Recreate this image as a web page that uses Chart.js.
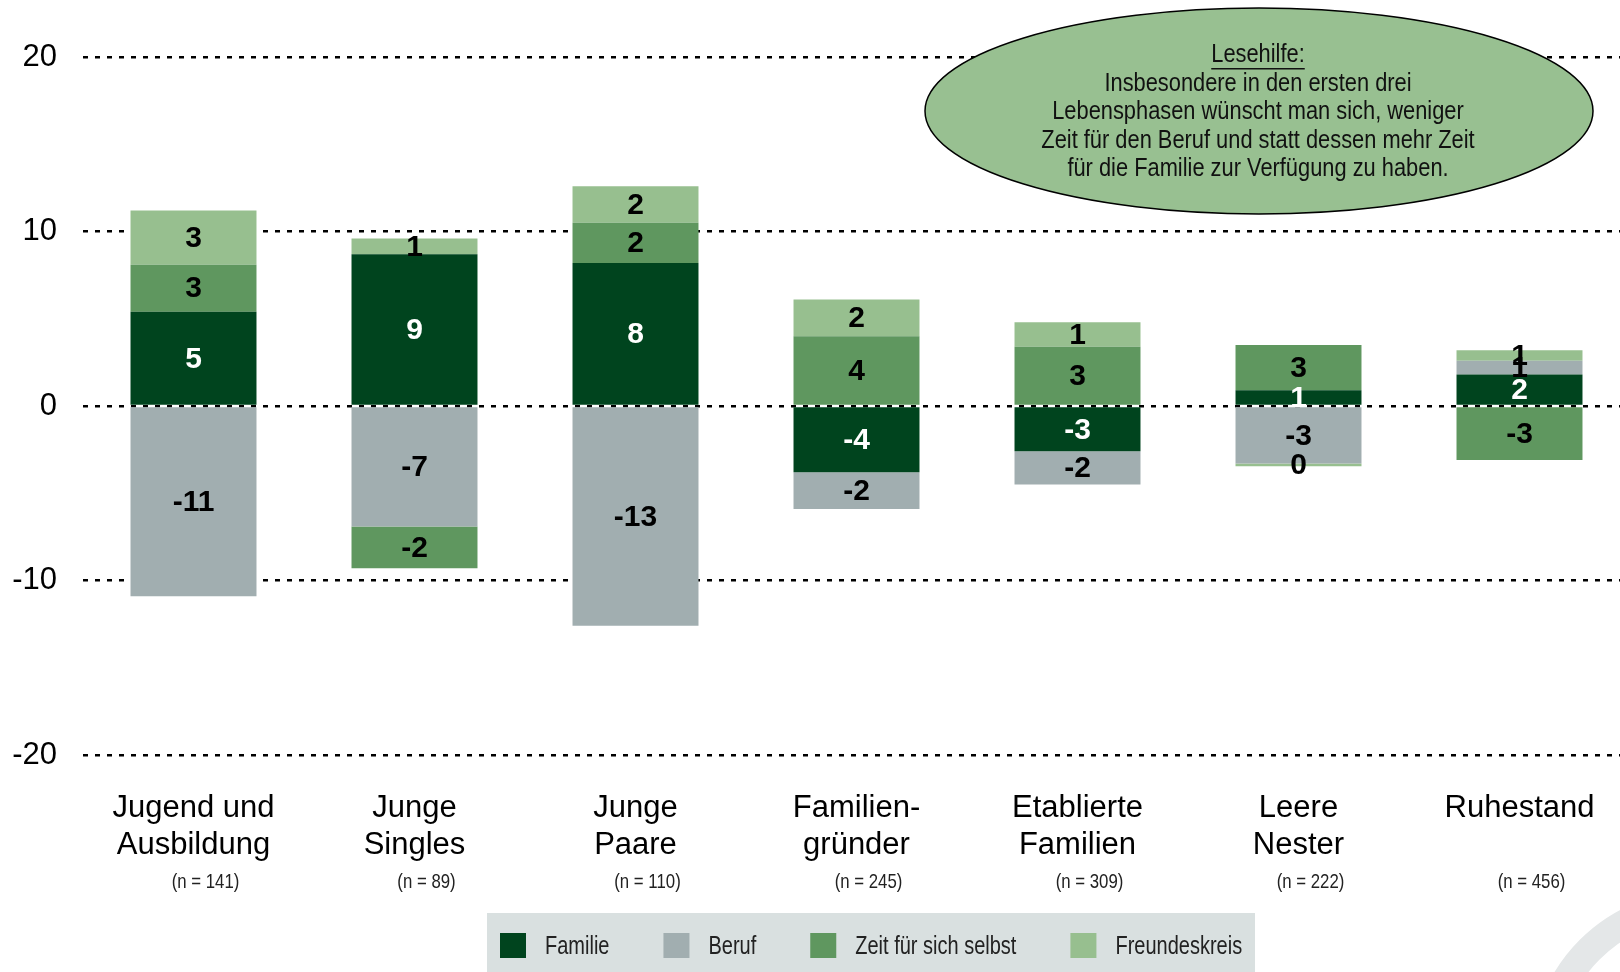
<!DOCTYPE html>
<html>
<head>
<meta charset="utf-8">
<script src="https://cdn.jsdelivr.net/npm/chart.js@4.4.1/dist/chart.umd.min.js"></script>
<style>
  html, body { margin: 0; padding: 0; background: #fff; overflow: hidden; }
  #wrap { position: relative; width: 1640px; height: 972px; }
</style>
</head>
<body>
<div id="wrap"><canvas id="myChart" width="1640" height="972"></canvas></div>
<script>
// categories and sample sizes
const phases = [
  ["Jugend und", "Ausbildung"],
  ["Junge", "Singles"],
  ["Junge", "Paare"],
  ["Familien-", "gründer"],
  ["Etablierte", "Familien"],
  ["Leere", "Nester"],
  ["Ruhestand"]
];
const sampleSizes = [141, 89, 110, 245, 309, 222, 456];

// series values (difference wished vs. actual time)
const familie = [5.4, 8.7, 8.2, -3.8, -2.6, 0.9, 1.8];
const beruf = [-10.9, -6.9, -12.6, -2.1, -1.9, -3.3, 0.8];
const zeitSelbst = [2.7, -2.4, 2.3, 4.0, 3.4, 2.6, -3.1];
const freundeskreis = [3.1, 0.9, 2.1, 2.1, 1.4, -0.15, 0.6];

const yTicks = [-20, -10, 0, 10, 20];

const noteTitle = "Lesehilfe:";
const noteLines = [
  "Insbesondere in den ersten drei",
  "Lebensphasen wünscht man sich, weniger",
  "Zeit für den Beruf und statt dessen mehr Zeit",
  "für die Familie zur Verfügung zu haben."
];

const colors = {
  familie: "#00441e",
  beruf: "#a1aeb0",
  zeit: "#5f975f",
  freunde: "#97bf8f"
};

const FONT = "'Liberation Sans', Arial, sans-serif";

// condensed text: no narrow font installed, so squeeze horizontally
function narrowText(c, txt, x, y, sx) {
  c.save();
  c.translate(x, y);
  c.scale(sx, 1);
  c.fillText(txt, 0, 0);
  c.restore();
}

// ------------------------------------
//  labels inside the bar segments
// ------------------------------------
const segmentLabels = {
  id: "segmentLabels",
  afterDatasetsDraw(chart) {
    const c = chart.ctx;
    c.save();
    c.font = "bold 30px " + FONT;
    c.textAlign = "center";
    c.textBaseline = "middle";
    chart.data.datasets.forEach((ds, di) => {
      const meta = chart.getDatasetMeta(di);
      meta.data.forEach((bar, i) => {
        const v = ds.data[i];
        if (v === null || v === undefined) return;
        const txt = String(Math.round(v) || 0);
        c.fillStyle = di === 0 ? "#ffffff" : "#000000";
        c.fillText(txt, bar.x, (bar.y + bar.base) / 2 + 1);
      });
    });
    c.restore();
  }
};

// ------------------------------------
//  sample sizes, note ellipse, legend
// ------------------------------------
const extras = {
  id: "extras",
  afterDraw(chart) {
    const c = chart.ctx;
    const xs = chart.scales.x;
    c.save();

    // (n = ...) under the categories
    c.font = "21px " + FONT;
    c.fillStyle = "#222";
    c.textAlign = "center";
    c.textBaseline = "middle";
    sampleSizes.forEach((n, i) => {
      narrowText(c, "(n = " + n + ")", xs.getPixelForValue(i) + 12, 882, 0.8);
    });

    // reading help ellipse
    c.beginPath();
    c.ellipse(1259, 111, 334, 103, 0, 0, Math.PI * 2);
    c.fillStyle = "#98c091";
    c.fill();
    c.lineWidth = 1.5;
    c.strokeStyle = "#000";
    c.stroke();

    const sx = 0.84;
    c.fillStyle = "#111";
    c.font = "26px " + FONT;
    narrowText(c, noteTitle, 1258, 55, sx);
    const tw = c.measureText(noteTitle).width * sx;
    c.fillRect(1258 - tw / 2, 68, tw, 1.5);
    noteLines.forEach((line, i) => {
      narrowText(c, line, 1258, 83.5 + i * 28.6, sx);
    });

    // legend box
    c.fillStyle = "#d9e0e0";
    c.fillRect(487, 913, 768, 59);
    c.font = "25px " + FONT;
    c.textAlign = "left";
    let x = 500;
    chart.data.datasets.forEach((ds) => {
      c.fillStyle = ds.backgroundColor;
      c.fillRect(x, 933, 26, 25);
      c.fillStyle = "#222";
      narrowText(c, ds.label, x + 45, 947, 0.8);
      x += 45 + c.measureText(ds.label).width * 0.8 + 54;
    });

    // light logo swoosh in the corner
    c.beginPath();
    c.arc(1700, 1060, 156, Math.PI, Math.PI * 1.5);
    c.lineWidth = 28;
    c.strokeStyle = "#e4e7e8";
    c.stroke();

    c.restore();
  }
};

const ctx = document.getElementById("myChart");

new Chart(ctx, {
  type: "bar",
  data: {
    labels: phases,
    datasets: [
      { label: "Familie", data: familie, backgroundColor: colors.familie },
      { label: "Beruf", data: beruf, backgroundColor: colors.beruf },
      { label: "Zeit für sich selbst", data: zeitSelbst, backgroundColor: colors.zeit },
      { label: "Freundeskreis", data: freundeskreis, backgroundColor: colors.freunde }
    ]
  },
  options: {
    responsive: false,
    animation: false,
    devicePixelRatio: 1,
    layout: { padding: { top: 57, right: 10, bottom: 0, left: 0 } },
    datasets: {
      bar: { barPercentage: 0.57, categoryPercentage: 1, borderWidth: 0 }
    },
    plugins: {
      legend: { display: false },
      tooltip: { enabled: false }
    },
    scales: {
      x: {
        stacked: true,
        grid: { display: false },
        border: { display: false },
        ticks: {
          color: "#000",
          padding: 27,
          font: { family: FONT, size: 31, lineHeight: 1.2 },
          maxRotation: 0,
          autoSkip: false
        },
        afterFit(scale) { scale.height = 217; }
      },
      y: {
        stacked: true,
        min: yTicks[0],
        max: yTicks[yTicks.length - 1],
        afterBuildTicks(scale) { scale.ticks = yTicks.map((v) => ({ value: v })); },
        grid: {
          color: "#000",
          lineWidth: 2.5,
          drawTicks: false
        },
        border: { display: false, dash: [5, 7] },
        ticks: {
          color: "#000",
          padding: 26,
          font: { family: FONT, size: 31 }
        },
        afterFit(scale) { scale.width = 83; }
      }
    }
  },
  plugins: [segmentLabels, extras]
});
</script>
</body>
</html>
